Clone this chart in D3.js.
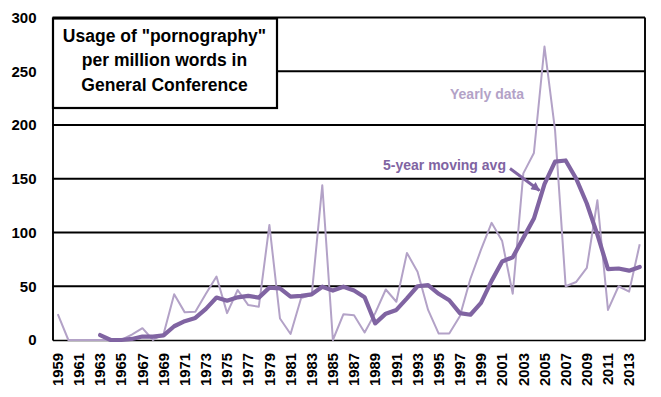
<!DOCTYPE html>
<html>
<head>
<meta charset="utf-8">
<script src="https://cdn.jsdelivr.net/npm/d3@7"></script>
<style>
  html, body { margin: 0; padding: 0; background: #fff; }
  svg { display: block; }
  text { font-family: "Liberation Sans", Arial, sans-serif; font-weight: bold; }
</style>
</head>
<body>
<svg id="chart" width="661" height="397"></svg>
<script>
const years = [1959,1960,1961,1962,1963,1964,1965,1966,1967,1968,1969,1970,1971,1972,1973,1974,1975,1976,1977,1978,1979,1980,1981,1982,1983,1984,1985,1986,1987,1988,1989,1990,1991,1992,1993,1994,1995,1996,1997,1998,1999,2000,2001,2002,2003,2004,2005,2006,2007,2008,2009,2010,2011,2012,2013,2014];
const yearly = [24,0,0,0,0,0,0,5,11,0,5.6,42.5,25.7,26.3,43,59,25,46.5,32.5,31,107,20,5.6,39,42,144,0,24,23,7,25,47,35.6,81,63.5,28,6,6,22,57,84,109,92,43,155,174,273,195,50,54,67,130,28,50,45,89];
const movingAvg = [null,null,null,null,4.6,0,0,1,3.2,3.2,4.3,12.8,17.5,20.5,29,39.5,36.6,39.7,41,39.4,48.7,48,40.3,41,42.5,49.6,46,49.6,46,39.7,15.5,24.5,28,38.7,50,51,43,37,25,23.5,34.5,55,73,77,95,113,145,166,167,150,127,98,66,66.5,64.5,68];
const xTickLabels = [1959,1961,1963,1965,1967,1969,1971,1973,1975,1977,1979,1981,1983,1985,1987,1989,1991,1993,1995,1997,1999,2001,2003,2005,2007,2009,2011,2013];
const yTicks = [0,50,100,150,200,250,300];
const titleLines = ['Usage of "pornography"', 'per million words in', 'General Conference'];
const yearlyLabel = "Yearly data";
const avgLabel = "5-year moving avg";

const colYearly = "#b3a2c7";
const colAvg = "#8064a2";

const svg = d3.select("#chart");
const pLeft = 52.5, pRight = 645, pTop = 17.5, pBottom = 340;

const x = d3.scaleBand().domain(years).range([pLeft, pRight]).padding(0);
const cx = d => x(d) + x.bandwidth() / 2;
const y = d3.scaleLinear().domain([0, 300]).range([pBottom, pTop]);

// gridlines
svg.append("g")
  .selectAll("line").data(yTicks.filter(d => d > 0)).join("line")
  .attr("x1", pLeft).attr("x2", pRight)
  .attr("y1", d => y(d)).attr("y2", d => y(d))
  .attr("stroke", "#000").attr("stroke-width", 1.8);

// y axis
const yAxis = svg.append("g").attr("transform", `translate(${pLeft},0)`)
  .call(d3.axisLeft(y).tickValues(yTicks).tickSize(0).tickPadding(16));
yAxis.select(".domain").attr("stroke", "#000").attr("stroke-width", 1.9);
yAxis.selectAll("text").attr("font-size", 15).attr("fill", "#000")
  .attr("font-family", '"Liberation Sans", Arial, sans-serif').attr("font-weight", "bold");

// x axis
const xAxis = svg.append("g").attr("transform", `translate(0,${pBottom})`)
  .call(d3.axisBottom(x).tickValues(xTickLabels).tickSize(0).tickFormat(d3.format("d")));
xAxis.select(".domain").attr("stroke", "#000").attr("stroke-width", 1.6);
xAxis.selectAll("text")
  .attr("font-size", 14.8).attr("fill", "#000")
  .attr("font-family", '"Liberation Sans", Arial, sans-serif').attr("font-weight", "bold")
  .attr("transform", "rotate(-90)")
  .attr("text-anchor", "end")
  .attr("x", -13).attr("y", 0).attr("dy", "0.35em");

// right border
svg.append("line").attr("x1", pRight).attr("x2", pRight).attr("y1", pTop).attr("y2", pBottom)
  .attr("stroke", "#000").attr("stroke-width", 1.9);

// yearly line
const lineYearly = d3.line().x((d, i) => cx(years[i])).y(d => y(d));
svg.append("path").datum(yearly)
  .attr("d", lineYearly)
  .attr("fill", "none").attr("stroke", colYearly).attr("stroke-width", 2)
  .attr("stroke-linejoin", "round");

// moving average line
const lineAvg = d3.line().defined(d => d !== null).x((d, i) => cx(years[i])).y(d => y(d));
svg.append("path").datum(movingAvg)
  .attr("d", lineAvg)
  .attr("fill", "none").attr("stroke", colAvg).attr("stroke-width", 4.2)
  .attr("stroke-linejoin", "round").attr("stroke-linecap", "round");

// title box
svg.append("rect").attr("x", 53).attr("y", 18.5).attr("width", 224).attr("height", 89.5)
  .attr("fill", "#fff").attr("stroke", "#000").attr("stroke-width", 2.2);
const titleBase = [41.5, 65.5, 90.5];
svg.append("g").selectAll("text").data(titleLines).join("text")
  .attr("x", 164.5).attr("y", (d, i) => titleBase[i])
  .attr("text-anchor", "middle").attr("font-size", 17.5).attr("fill", "#000")
  .text(d => d);

// series labels
svg.append("text").attr("x", 450).attr("y", 99).attr("font-size", 14)
  .attr("fill", colYearly).text(yearlyLabel);
svg.append("text").attr("x", 383).attr("y", 170).attr("font-size", 14)
  .attr("fill", colAvg).text(avgLabel);

// arrow
const defs = svg.append("defs");
defs.append("marker").attr("id", "ah").attr("viewBox", "0 0 10 10")
  .attr("refX", 9).attr("refY", 5).attr("markerWidth", 11).attr("markerHeight", 9)
  .attr("markerUnits", "userSpaceOnUse").attr("orient", "auto")
  .append("path").attr("d", "M0,0 L10,5 L0,10 Z").attr("fill", colAvg);
svg.append("line").attr("x1", 510).attr("y1", 168.5).attr("x2", 539.5).attr("y2", 190.5)
  .attr("stroke", colAvg).attr("stroke-width", 3).attr("marker-end", "url(#ah)");
</script>
</body>
</html>
